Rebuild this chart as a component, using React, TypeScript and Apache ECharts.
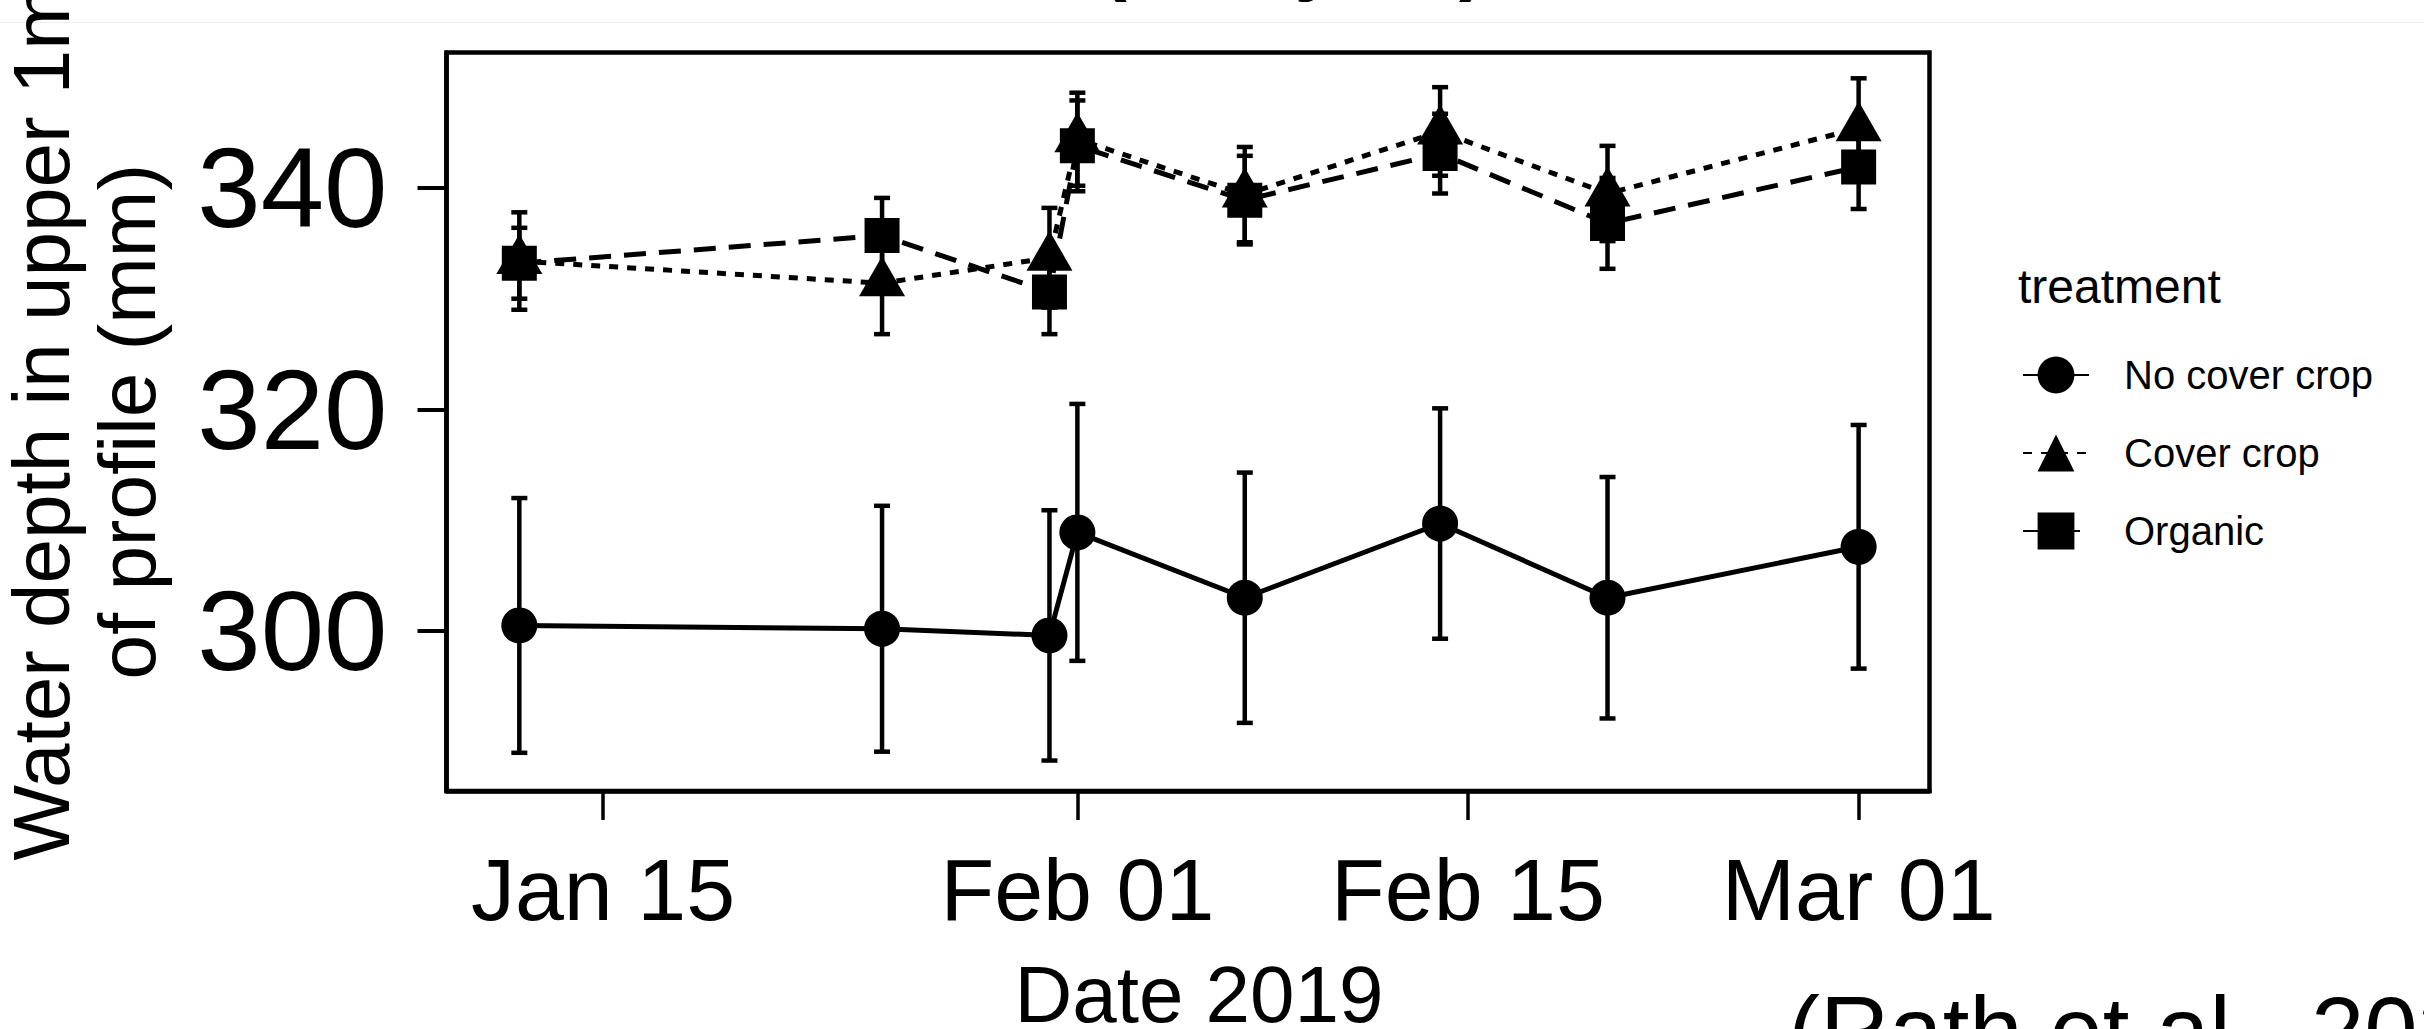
import React, { useEffect, useRef } from "react";
import * as echarts from "echarts";

// ---- data ----
const dates = [
  "2019-01-12",
  "2019-01-25",
  "2019-01-31",
  "2019-02-01",
  "2019-02-07",
  "2019-02-14",
  "2019-02-20",
  "2019-03-01",
];
const noCoverMean = [300.5, 300.2, 299.6, 308.9, 303.0, 309.7, 303.0, 307.6];
const noCoverSE = [11.5, 11.1, 11.3, 11.6, 11.3, 10.4, 10.9, 11.0];
const coverMean = [333.4, 331.4, 333.7, 344.4, 339.4, 345.1, 339.5, 345.4];
const coverSE = [4.4, 4.6, 4.5, 4.2, 4.3, 4.0, 4.3, 4.5];
const organicMean = [333.2, 335.7, 330.6, 343.8, 338.9, 343.1, 336.8, 341.9];
const organicSE = [3.2, 3.4, 3.8, 4.1, 4.0, 3.6, 4.1, 3.8];
const treatments = ["No cover crop", "Cover crop", "Organic"];
const xTickDates = ["2019-01-15", "2019-02-01", "2019-02-15", "2019-03-01"];
const xTickLabels = ["Jan 15", "Feb 01", "Feb 15", "Mar 01"];
const yTicks = [300, 320, 340];
const xMinDay = 9.39;
const xMaxDay = 62.54;
const yMin = 285.55;
const yMax = 352.23;

const FONT = "'Liberation Sans', Arial, Helvetica, sans-serif";

const dayOfYear = (s: string) => {
  const [y, m, d] = s.split("-").map(Number);
  return (Date.UTC(y, m - 1, d) - Date.UTC(y, 0, 1)) / 86400000 + 1;
};

const days = dates.map(dayOfYear);
const xTickDays = xTickDates.map(dayOfYear);

const pairs = (means: number[]) => days.map((d, i) => [d, means[i]]);
const triples = (means: number[], se: number[]) =>
  days.map((d, i) => [d, means[i], se[i]]);

const renderErr = (params: any, api: any) => {
  const x = api.value(0);
  const m = api.value(1);
  const s = api.value(2);
  const top = api.coord([x, m + s]);
  const bot = api.coord([x, m - s]);
  const style = { stroke: "#000", lineWidth: 4.5 };
  const cap = 8;
  return {
    type: "group",
    children: [
      { type: "line", shape: { x1: top[0], y1: top[1], x2: bot[0], y2: bot[1] }, style },
      { type: "line", shape: { x1: top[0] - cap, y1: top[1], x2: top[0] + cap, y2: top[1] }, style },
      { type: "line", shape: { x1: bot[0] - cap, y1: bot[1], x2: bot[0] + cap, y2: bot[1] }, style },
    ],
  };
};

export default function App() {
  const ref = useRef<HTMLDivElement>(null);

  useEffect(() => {
    if (!ref.current) return;
    const chart = echarts.init(ref.current, null, { renderer: "svg" });

    const errSeries = (name: string, means: number[], se: number[]) => ({
      name,
      type: "custom",
      renderItem: renderErr,
      data: triples(means, se),
      encode: { x: 0, y: 1 },
      z: 1,
      silent: true,
      clip: false,
    });

    const lineSeries = (
      name: string,
      means: number[],
      symbol: string,
      symbolSize: any,
      dash: any,
      offset: any = [0, 0]
    ) => ({
      name,
      type: "line",
      data: pairs(means),
      symbol,
      symbolSize,
      symbolOffset: offset,
      showSymbol: true,
      itemStyle: { color: "#000", borderWidth: 0 },
      lineStyle: { color: "#000", width: 5, type: dash },
      z: 3,
      clip: false,
      silent: true,
    });

    const option: any = {
      animation: false,
      backgroundColor: "#ffffff",
      textStyle: { fontFamily: FONT },
      grid: {
        left: 446.5,
        right: 494.5,
        top: 52.5,
        bottom: 238,
        show: true,
        borderColor: "#000",
        borderWidth: 4.5,
        backgroundColor: "transparent",
        containLabel: false,
        outerBoundsMode: "none",
      },
      xAxis: {
        type: "value",
        min: xMinDay,
        max: xMaxDay,
        name: "Date 2019",
        nameLocation: "middle",
        nameGap: 163,
        nameTextStyle: {
          fontSize: 80,
          lineHeight: 80,
          color: "#000",
          fontFamily: FONT,
          padding: [0, 0, 0, 22],
        },
        axisLine: { show: true, onZero: false, lineStyle: { color: "#000", width: 4.5 } },
        axisTick: {
          show: true,
          length: 29,
          customValues: xTickDays,
          lineStyle: { color: "#000", width: 3.5 },
        },
        axisLabel: {
          customValues: xTickDays,
          formatter: (v: number) => {
            const i = xTickDays.findIndex((d) => Math.abs(d - v) < 1e-6);
            return i >= 0 ? xTickLabels[i] : "";
          },
          fontSize: 88,
          lineHeight: 88,
          margin: 54,
          color: "#000",
          fontFamily: FONT,
        },
        splitLine: { show: false },
      },
      yAxis: {
        type: "value",
        min: yMin,
        max: yMax,
        name: "Water depth in upper 1m\nof profile (mm)",
        nameLocation: "middle",
        nameGap: 276,
        nameTextStyle: {
          fontSize: 80,
          lineHeight: 86,
          color: "#000",
          fontFamily: FONT,
          align: "center",
        },
        axisLine: { show: true, onZero: false, lineStyle: { color: "#000", width: 4.5 } },
        axisTick: {
          show: true,
          length: 29,
          customValues: yTicks,
          lineStyle: { color: "#000", width: 4 },
        },
        axisLabel: {
          customValues: yTicks,
          fontSize: 114,
          margin: 59,
          color: "#000",
          fontFamily: FONT,
        },
        splitLine: { show: false },
      },
      legend: {
        data: treatments,
        orient: "vertical",
        left: 2017,
        top: 350,
        itemWidth: 66,
        itemHeight: 46,
        itemGap: 38,
        selectedMode: false,
        textStyle: {
          fontSize: 40,
          lineHeight: 40,
          color: "#000",
          fontFamily: FONT,
          padding: [0, 0, 0, 30],
        },
      },
      graphic: [
        {
          type: "line",
          shape: { x1: 0, y1: 22.5, x2: 2424, y2: 22.5 },
          style: { stroke: "#eeeeee", lineWidth: 1 },
          silent: true,
        },
        {
          type: "text",
          x: 1293,
          y: -43,
          style: {
            text: "(Wet year)",
            font: `bold 80px ${FONT}`,
            fill: "#000",
            align: "center",
            verticalAlign: "middle",
            lineHeight: 80,
          },
          silent: true,
        },
        {
          type: "text",
          x: 2018,
          y: 286,
          style: {
            text: "treatment",
            font: `48px ${FONT}`,
            fill: "#000",
            align: "left",
            verticalAlign: "middle",
          },
          silent: true,
        },
        {
          type: "text",
          x: 1788,
          y: 1030,
          style: {
            text: "(Rath et al., 2021)",
            font: `96px ${FONT}`,
            fill: "#000",
            align: "left",
            verticalAlign: "middle",
            lineHeight: 96,
          },
          silent: true,
        },
      ],
      series: [
        errSeries("No cover crop SE", noCoverMean, noCoverSE),
        errSeries("Cover crop SE", coverMean, coverSE),
        errSeries("Organic SE", organicMean, organicSE),
        lineSeries(treatments[0], noCoverMean, "circle", 36, "solid"),
        lineSeries(treatments[1], coverMean, "triangle", [46, 40], [9, 9], [0, -7]),
        lineSeries(treatments[2], organicMean, "rect", 35, [22, 13]),
      ],
    };

    chart.setOption(option);
    return () => chart.dispose();
  }, []);

  return (
    <div
      ref={ref}
      style={{ position: "fixed", left: 0, top: 0, width: 2424, height: 1029, background: "#fff" }}
    />
  );
}
